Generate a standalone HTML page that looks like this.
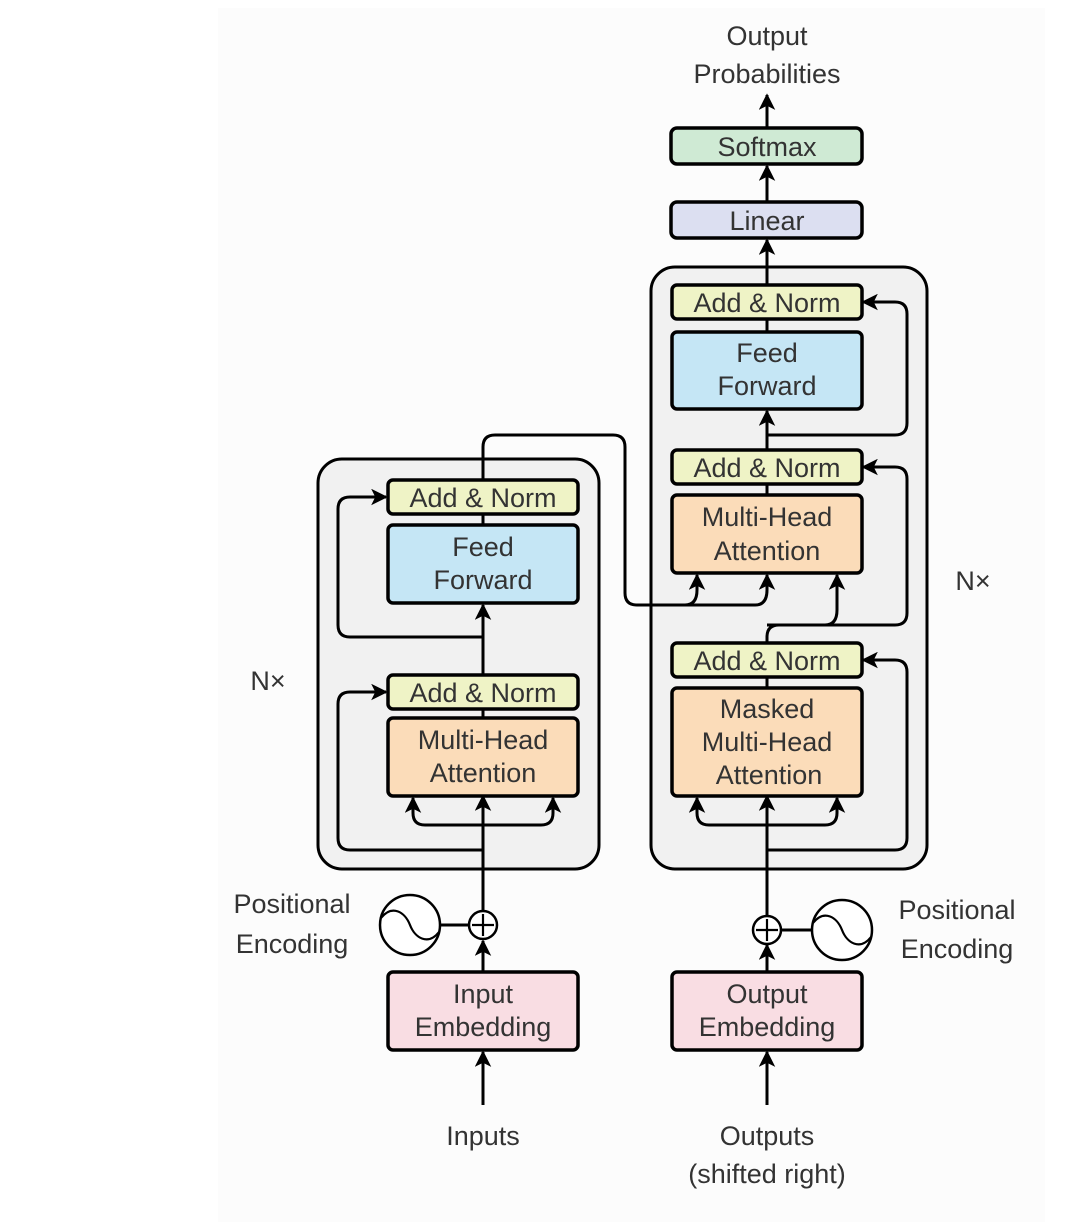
<!DOCTYPE html>
<html><head><meta charset="utf-8"><style>
html,body{margin:0;padding:0;background:#fff;}
svg{display:block;}
text{font-family:"Liberation Sans",sans-serif;fill:#333;font-size:27px;text-anchor:middle;}
</style></head><body>
<svg width="1080" height="1222" viewBox="0 0 1080 1222" xmlns="http://www.w3.org/2000/svg">
<defs>
<marker id="a" viewBox="0 0 10 10" refX="9" refY="5" markerWidth="5.5" markerHeight="5.5" orient="auto"><path d="M0,0 L10,5 L0,10 L2.5,5 z" fill="#000"/></marker>
</defs>
<rect x="218" y="8" width="827" height="1214" fill="#fcfcfc"/>
<rect x="318" y="459" width="281" height="410" rx="24" fill="#f1f1f1" stroke="#000" stroke-width="3"/>
<rect x="651" y="267" width="276" height="602" rx="24" fill="#f1f1f1" stroke="#000" stroke-width="3"/>

<g stroke="#000" stroke-width="3" fill="none">
<path d="M483 1105 V1052" marker-end="url(#a)"/>
<path d="M483 972 V941" marker-end="url(#a)"/>
<path d="M483 911 V796" marker-end="url(#a)"/>
<path d="M483 825 H425 Q413 825 413 813 V798" marker-end="url(#a)"/>
<path d="M483 825 H541 Q553 825 553 813 V798" marker-end="url(#a)"/>
<path d="M483 850 H350 Q338 850 338 838 V704 Q338 692 350 692 H386" marker-end="url(#a)"/>
<path d="M483 718 V709"/>
<path d="M483 675 V605" marker-end="url(#a)"/>
<path d="M483 637 H350 Q338 637 338 625 V509 Q338 497 350 497 H386" marker-end="url(#a)"/>
<path d="M483 525 V514"/>
<path d="M483 480 V447 Q483 435 495 435 H613 Q625 435 625 447 V593 Q625 605 637 605 H685 Q697 605 697 590 V575" marker-end="url(#a)"/>
<path d="M680 605 H755 Q767 605 767 590 V575" marker-end="url(#a)"/>
<line x1="440" y1="925" x2="469" y2="925"/>
<path d="M767 1105 V1052" marker-end="url(#a)"/>
<path d="M767 972 V945" marker-end="url(#a)"/>
<path d="M767 915 V796" marker-end="url(#a)"/>
<path d="M767 825 H709 Q697 825 697 813 V798" marker-end="url(#a)"/>
<path d="M767 825 H825 Q837 825 837 813 V798" marker-end="url(#a)"/>
<path d="M767 850 H895 Q907 850 907 838 V672 Q907 660 895 660 H863" marker-end="url(#a)"/>
<path d="M767 688 V677"/>
<path d="M767 643 V637 Q767 625 779 625 H825 Q837 625 837 610 V575" marker-end="url(#a)"/>
<path d="M767 625 H895 Q907 625 907 613 V479 Q907 467 895 467 H863" marker-end="url(#a)"/>
<path d="M767 495 V484"/>
<path d="M767 450 V411" marker-end="url(#a)"/>
<path d="M767 435 H895 Q907 435 907 423 V314 Q907 302 895 302 H863" marker-end="url(#a)"/>
<path d="M767 332 V319"/>
<path d="M767 285 V240" marker-end="url(#a)"/>
<path d="M767 202 V166" marker-end="url(#a)"/>
<path d="M767 128 V95" marker-end="url(#a)"/>
<line x1="780" y1="930" x2="813" y2="930"/>
</g>

<g stroke="#000" stroke-width="3.5">
<rect x="388" y="480" width="190" height="34" rx="5" fill="#eff3c6"/>
<rect x="388" y="525" width="190" height="78" rx="5" fill="#c5e6f5"/>
<rect x="388" y="675" width="190" height="34" rx="5" fill="#eff3c6"/>
<rect x="388" y="718" width="190" height="78" rx="5" fill="#fbdcb9"/>
<rect x="388" y="972" width="190" height="78" rx="5" fill="#f9dde3"/>
<rect x="672" y="285" width="190" height="34" rx="5" fill="#eff3c6"/>
<rect x="672" y="332" width="190" height="77" rx="5" fill="#c5e6f5"/>
<rect x="672" y="450" width="190" height="34" rx="5" fill="#eff3c6"/>
<rect x="672" y="495" width="190" height="78" rx="5" fill="#fbdcb9"/>
<rect x="672" y="643" width="190" height="34" rx="5" fill="#eff3c6"/>
<rect x="672" y="688" width="190" height="108" rx="5" fill="#fbdcb9"/>
<rect x="672" y="972" width="190" height="78" rx="5" fill="#f9dde3"/>
<rect x="671" y="202" width="191" height="36" rx="6" fill="#dcdff1"/>
<rect x="671" y="128" width="191" height="36" rx="6" fill="#cfead4"/>
</g>
<g stroke="#000" stroke-width="2.5" fill="#fff">
<circle cx="483" cy="925" r="14"/>
<circle cx="767" cy="930" r="14"/>
<circle cx="410" cy="925" r="30"/>
<circle cx="842" cy="930" r="30"/>
</g>
<g stroke="#000" stroke-width="2.2" fill="none">
<path d="M483 914 V936 M472 925 H494"/>
<path d="M767 919 V941 M756 930 H778"/>
<path d="M381 918 C392 904 405 912 410 925 C415 938 428 946 439 932"/>
<path d="M813 923 C824 909 837 917 842 930 C847 943 860 951 871 937"/>
</g>

<text x="483" y="507">Add &amp; Norm</text>
<text x="483" y="556">Feed</text>
<text x="483" y="589">Forward</text>
<text x="483" y="702">Add &amp; Norm</text>
<text x="483" y="749">Multi-Head</text>
<text x="483" y="782">Attention</text>
<text x="483" y="1003">Input</text>
<text x="483" y="1036">Embedding</text>
<text x="767" y="312">Add &amp; Norm</text>
<text x="767" y="362">Feed</text>
<text x="767" y="395">Forward</text>
<text x="767" y="477">Add &amp; Norm</text>
<text x="767" y="526">Multi-Head</text>
<text x="767" y="560">Attention</text>
<text x="767" y="670">Add &amp; Norm</text>
<text x="767" y="718">Masked</text>
<text x="767" y="751">Multi-Head</text>
<text x="769" y="784">Attention</text>
<text x="767" y="1003">Output</text>
<text x="767" y="1036">Embedding</text>
<text x="767" y="230">Linear</text>
<text x="767" y="156">Softmax</text>
<g style="font-size:30px">
<text x="767" y="45">Output</text>
<text x="767" y="83">Probabilities</text>
<text x="268" y="690">N×</text>
<text x="973" y="590">N×</text>
<text x="292" y="913">Positional</text>
<text x="292" y="953">Encoding</text>
<text x="957" y="919">Positional</text>
<text x="957" y="958">Encoding</text>
<text x="483" y="1145">Inputs</text>
<text x="767" y="1145">Outputs</text>
<text x="767" y="1183">(shifted right)</text>
</g>
</svg>
</body></html>
